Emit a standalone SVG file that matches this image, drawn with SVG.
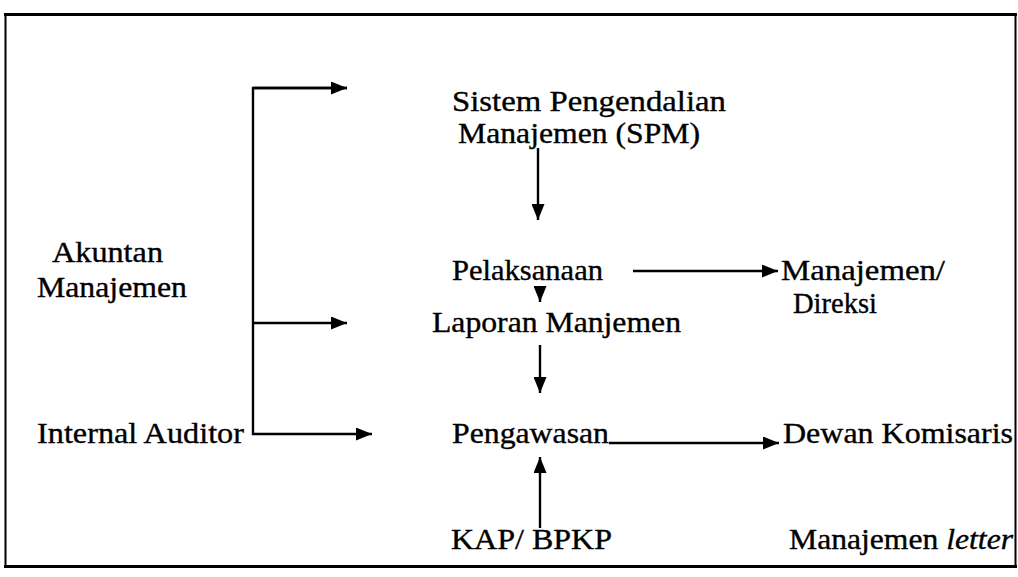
<svg xmlns="http://www.w3.org/2000/svg" width="1018" height="577" viewBox="0 0 1018 577">
<style>
text{font-family:"Liberation Serif","Times New Roman",serif;font-size:29px;fill:#000;stroke:#000;stroke-width:0.35}
.c line,.c polyline{stroke:#000;stroke-width:2.4;fill:none}
</style>
<defs>
<marker id="ah" viewBox="0 0 16 13" refX="16" refY="6.5" markerWidth="16" markerHeight="13" markerUnits="userSpaceOnUse" orient="auto">
<path d="M0,0 L16,6.5 L0,13 Z" fill="#000"/>
</marker>
</defs>
<rect x="0" y="0" width="1018" height="577" fill="#fff"/>
<g id="frame" stroke="#000" fill="none">
<line x1="4" y1="14.5" x2="1017" y2="14.5" stroke-width="3"/>
<line x1="5.5" y1="14" x2="5.5" y2="568" stroke-width="2"/>
<line x1="1015.5" y1="14" x2="1015.5" y2="568" stroke-width="2"/>
<line x1="4" y1="566.5" x2="1017" y2="566.5" stroke-width="3"/>
</g>
<g class="c" id="connectors">
<polyline points="347,88 253,88 253,434 372,434" marker-end="url(#ah)"/>
<line x1="253" y1="88" x2="347" y2="88" marker-end="url(#ah)"/>
<line x1="253" y1="323" x2="347" y2="323" marker-end="url(#ah)"/>
<line x1="538" y1="148" x2="538" y2="220" marker-end="url(#ah)"/>
<line x1="633" y1="271" x2="778" y2="271" marker-end="url(#ah)"/>
<line x1="540" y1="287" x2="540" y2="302" marker-end="url(#ah)"/>
<line x1="540" y1="345" x2="540" y2="393" marker-end="url(#ah)"/>
<line x1="609" y1="443" x2="779" y2="443" marker-end="url(#ah)"/>
<line x1="540" y1="528" x2="540" y2="457" marker-end="url(#ah)"/>
</g>
<g id="spm"><text x="452" y="111" textLength="274" lengthAdjust="spacingAndGlyphs">Sistem Pengendalian</text><text x="458" y="143" textLength="242" lengthAdjust="spacingAndGlyphs">Manajemen (SPM)</text></g>
<g id="pelaksanaan"><text x="452" y="280" textLength="151" lengthAdjust="spacingAndGlyphs">Pelaksanaan</text></g>
<g id="direksi"><text x="781" y="280" textLength="164" lengthAdjust="spacingAndGlyphs">Manajemen/</text><text x="793" y="313" textLength="84" lengthAdjust="spacingAndGlyphs">Direksi</text></g>
<g id="laporan"><text x="432" y="332" textLength="249" lengthAdjust="spacingAndGlyphs">Laporan Manjemen</text></g>
<g id="pengawasan"><text x="452" y="443" textLength="157" lengthAdjust="spacingAndGlyphs">Pengawasan</text></g>
<g id="dewan"><text x="783" y="443" textLength="230" lengthAdjust="spacingAndGlyphs">Dewan Komisaris</text></g>
<g id="kap"><text x="451" y="549" textLength="161" lengthAdjust="spacingAndGlyphs">KAP/ BPKP</text></g>
<g id="letter"><text x="789" y="549" textLength="224" lengthAdjust="spacingAndGlyphs">Manajemen <tspan font-style="italic">letter</tspan></text></g>
<g id="akuntan"><text x="52" y="262" textLength="111" lengthAdjust="spacingAndGlyphs">Akuntan</text><text x="37" y="297" textLength="150" lengthAdjust="spacingAndGlyphs">Manajemen</text></g>
<g id="internal"><text x="37" y="443" textLength="207" lengthAdjust="spacingAndGlyphs">Internal Auditor</text></g>
</svg>
